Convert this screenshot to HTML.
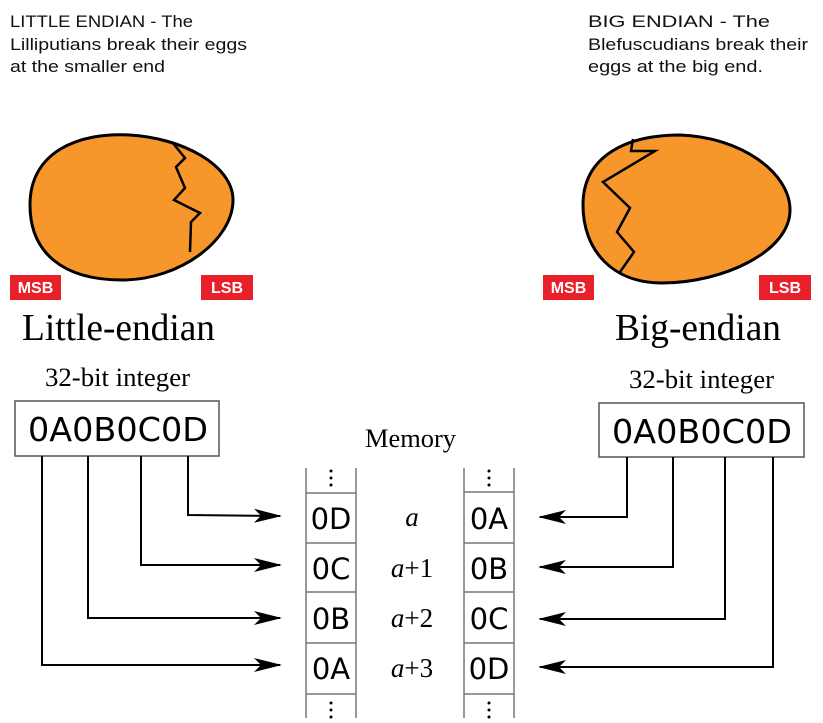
<!DOCTYPE html>
<html><head><meta charset="utf-8"><style>
html,body{margin:0;padding:0;background:#fff;}
svg{display:block;}
.t{font-family:"Liberation Sans",sans-serif;font-size:17px;fill:#111;}
.s{font-family:"Liberation Serif",serif;fill:#000;}
.m{font-family:"DejaVu Sans",sans-serif;fill:#000;}
.b{font-family:"Liberation Sans",sans-serif;font-weight:bold;font-size:16px;fill:#fff;}
</style></head><body>
<svg width="823" height="723" viewBox="0 0 823 723" xmlns="http://www.w3.org/2000/svg">
<defs><marker id="ah" markerWidth="28" markerHeight="14" refX="26" refY="7" orient="auto" markerUnits="userSpaceOnUse"><path d="M0,0 L28,7 L0,14 L7,7 Z" fill="#000"/></marker></defs>
<text class="t" x="10" y="27" textLength="183" lengthAdjust="spacingAndGlyphs">LITTLE ENDIAN - The</text>
<text class="t" x="10" y="50" textLength="237" lengthAdjust="spacingAndGlyphs">Lilliputians break their eggs</text>
<text class="t" x="10" y="72" textLength="155" lengthAdjust="spacingAndGlyphs">at the smaller end</text>
<text class="t" x="588" y="27" textLength="182" lengthAdjust="spacingAndGlyphs">BIG ENDIAN - The</text>
<text class="t" x="588" y="50" textLength="220" lengthAdjust="spacingAndGlyphs">Blefuscudians break their</text>
<text class="t" x="588" y="72" textLength="175" lengthAdjust="spacingAndGlyphs">eggs at the big end.</text>

<path d="M30 205 C30 152 78 132 130 135 C182 138 233 165 233 200 C233 240 180 280 122 280 C62 280 30 252 30 205 Z" fill="#f7962a" stroke="#000" stroke-width="3"/>
<polyline points="172,142 185,158 176,167 185,188 174,200 200,213 191,222 190,252" fill="none" stroke="#000" stroke-width="2.5"/>
<path d="M583 205 C583 155 628 135 680 135 C740 137 790 172 790 210 C790 252 722 283 662 283 C612 283 583 250 583 205 Z" fill="#f7962a" stroke="#000" stroke-width="3"/>
<polyline points="633,139 631,151 655,151 603,182 630,208 617,232 634,252 620,272" fill="none" stroke="#000" stroke-width="2.5"/>

<rect x="10" y="275" width="51" height="25" fill="#e8202a"/><text class="b" x="35.5" y="293" text-anchor="middle">MSB</text>
<rect x="201" y="275" width="52" height="25" fill="#e8202a"/><text class="b" x="227" y="293" text-anchor="middle">LSB</text>
<rect x="543" y="275" width="51" height="25" fill="#e8202a"/><text class="b" x="568.5" y="293" text-anchor="middle">MSB</text>
<rect x="759" y="275" width="52" height="25" fill="#e8202a"/><text class="b" x="785" y="293" text-anchor="middle">LSB</text>

<text class="s" x="22" y="340" font-size="38" textLength="193" lengthAdjust="spacingAndGlyphs">Little-endian</text>
<text class="s" x="615" y="340" font-size="38" textLength="166" lengthAdjust="spacingAndGlyphs">Big-endian</text>
<text class="s" x="45" y="386" font-size="26" textLength="145" lengthAdjust="spacingAndGlyphs">32-bit integer</text>
<text class="s" x="629" y="388" font-size="26" textLength="145" lengthAdjust="spacingAndGlyphs">32-bit integer</text>
<text class="s" x="365" y="447" font-size="26" textLength="91" lengthAdjust="spacingAndGlyphs">Memory</text>

<rect x="15" y="401" width="204" height="55" fill="#fff" stroke="#555" stroke-width="1.5"/>
<text class="m" x="28" y="441" font-size="33" textLength="180" lengthAdjust="spacingAndGlyphs">0A0B0C0D</text>
<rect x="599" y="403" width="205" height="54" fill="#fff" stroke="#555" stroke-width="1.5"/>
<text class="m" x="612" y="443" font-size="33" textLength="180" lengthAdjust="spacingAndGlyphs">0A0B0C0D</text>

<g fill="none" stroke="#000" stroke-width="2" marker-end="url(#ah)">
<polyline points="188,456 188,515 280,516"/>
<polyline points="141,456 141,565 280,565"/>
<polyline points="88,456 88,618 280,618"/>
<polyline points="42,456 42,665 280,665"/>
<polyline points="627,457 627,517 540,517"/>
<polyline points="673,457 673,567 540,567"/>
<polyline points="725,457 725,619 540,619"/>
<polyline points="773,457 773,667 540,667"/>
</g>

<g stroke="#777" stroke-width="1.5">
<line x1="306" y1="468" x2="306" y2="718"/><line x1="356" y1="468" x2="356" y2="718"/>
<line x1="464" y1="468" x2="464" y2="718"/><line x1="514" y1="468" x2="514" y2="718"/>
<line x1="306" y1="493" x2="356" y2="493"/><line x1="306" y1="543" x2="356" y2="543"/><line x1="306" y1="592" x2="356" y2="592"/><line x1="306" y1="643" x2="356" y2="643"/><line x1="306" y1="694" x2="356" y2="694"/>
<line x1="464" y1="492" x2="514" y2="492"/><line x1="464" y1="543" x2="514" y2="543"/><line x1="464" y1="592" x2="514" y2="592"/><line x1="464" y1="643" x2="514" y2="643"/><line x1="464" y1="694" x2="514" y2="694"/>
</g>
<g fill="#000">
<circle cx="331" cy="471" r="1.5"/><circle cx="331" cy="478" r="1.5"/><circle cx="331" cy="485" r="1.5"/>
<circle cx="331" cy="703" r="1.5"/><circle cx="331" cy="710" r="1.5"/><circle cx="331" cy="717" r="1.5"/>
<circle cx="489" cy="471" r="1.5"/><circle cx="489" cy="478" r="1.5"/><circle cx="489" cy="485" r="1.5"/>
<circle cx="489" cy="703" r="1.5"/><circle cx="489" cy="710" r="1.5"/><circle cx="489" cy="717" r="1.5"/>
</g>
<g class="m" font-size="29" text-anchor="middle">
<text x="331" y="529">0D</text><text x="331" y="579">0C</text><text x="331" y="629">0B</text><text x="331" y="679">0A</text>
<text x="489" y="529">0A</text><text x="489" y="579">0B</text><text x="489" y="629">0C</text><text x="489" y="679">0D</text>
</g>
<g class="s" font-size="27" text-anchor="middle">
<text x="412" y="526"><tspan font-style="italic">a</tspan></text>
<text x="412" y="577"><tspan font-style="italic">a</tspan>+1</text>
<text x="412" y="627"><tspan font-style="italic">a</tspan>+2</text>
<text x="412" y="677"><tspan font-style="italic">a</tspan>+3</text>
</g>
</svg>
</body></html>
